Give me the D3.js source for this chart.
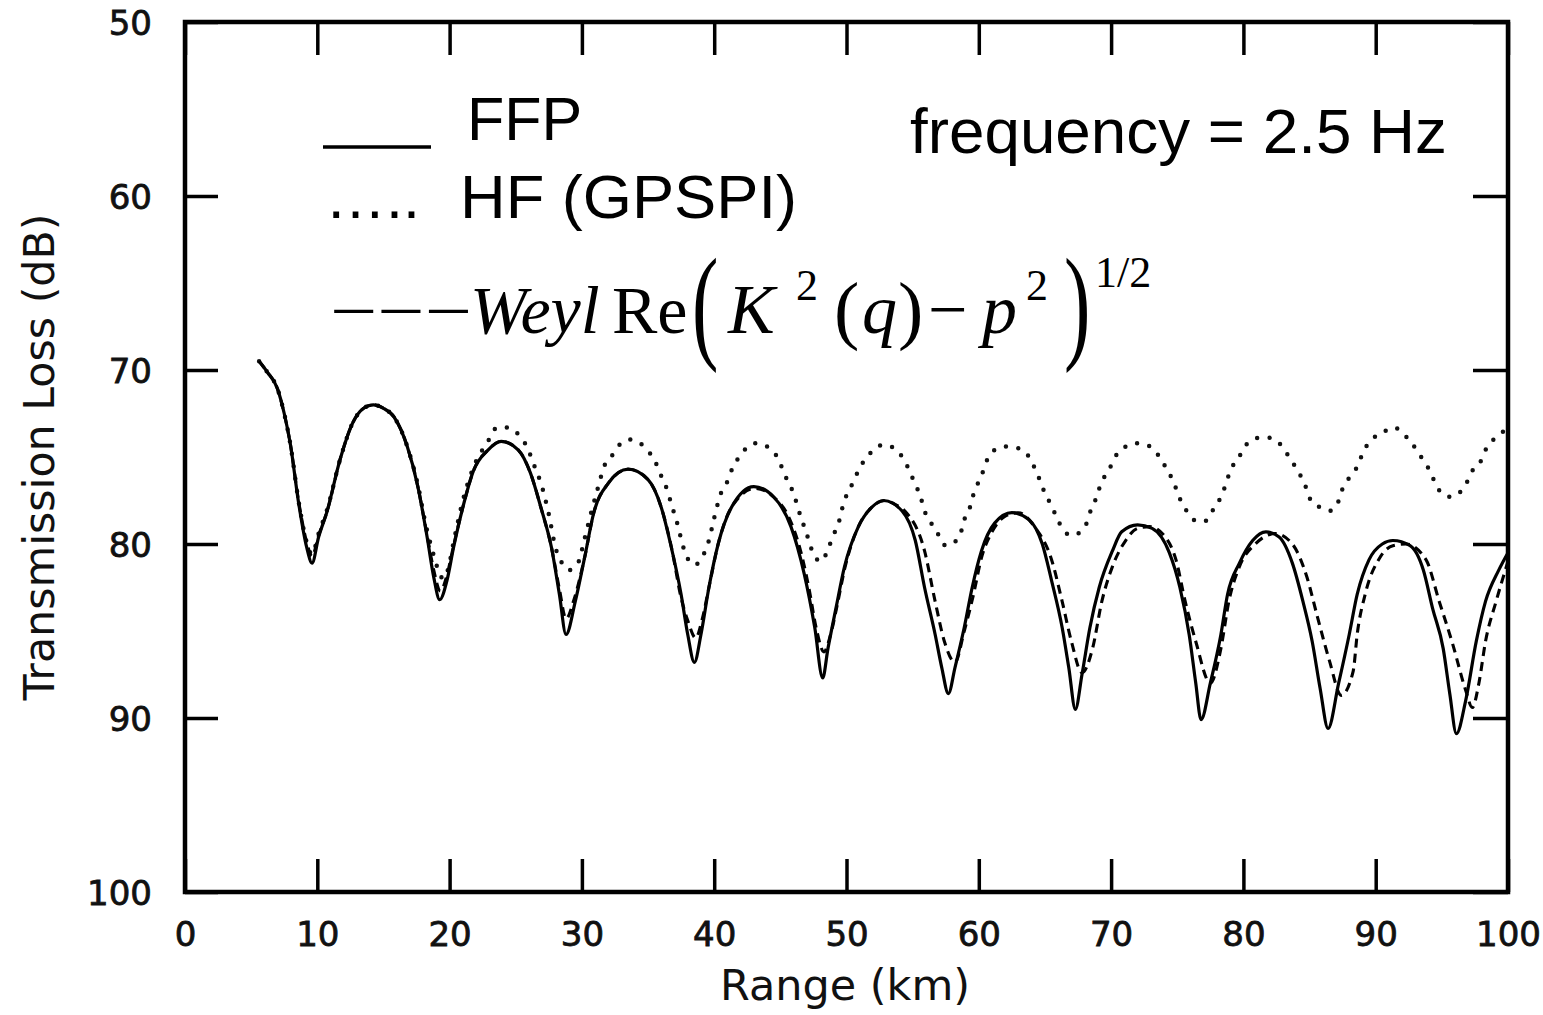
<!DOCTYPE html>
<html>
<head>
<meta charset="UTF-8">
<script src="https://cdn.jsdelivr.net/npm/d3@7"></script>
<style>
  body { margin: 0; background: #fff; }
  svg { display: block; }
</style>
</head>
<body>
<svg id="chart" width="1543" height="1015"></svg>
<script>
// tick values
var xTicks = [0, 10, 20, 30, 40, 50, 60, 70, 80, 90, 100];
var yTicks = [50, 60, 70, 80, 90, 100];

// FFP (solid), [range km, TL dB]
var ffp = [[5.6,69.5],[6.2,70.1],[7.0,71.1],[7.5,72.5],[7.95,74.2],[8.6,77.7],[9.2,80.2],[9.6,81.1],[10.1,79.6],[10.75,78.1],[11.7,75.2],[12.7,73.0],[13.5,72.2],[14.24,72.0],[15.0,72.2],[15.8,72.7],[16.8,74.4],[17.6,76.7],[18.3,79.6],[18.8,81.9],[19.25,83.2],
  [19.8,82.1],[20.3,80.2],[21.0,77.9],[21.8,75.8],[22.9,74.6],[23.9,74.1],[25.2,74.6],[26.1,75.9],[26.9,77.9],[27.7,80.2],[28.3,82.9],[28.8,85.2],
  [29.5,83.3],[30.2,80.8],[30.9,78.2],[32.0,76.5],[33.5,75.7],[35.0,76.3],[36.0,77.9],[36.7,80.0],[37.5,82.9],[38.0,85.2],[38.5,86.8],
  [39.0,85.2],[39.6,82.5],[40.3,80.0],[41.3,77.9],[43.0,76.7],[44.5,77.3],[45.8,79.0],[46.8,81.7],[47.6,84.8],[48.2,87.7],
  [48.6,86.0],[49.2,83.7],[49.85,81.3],[50.9,79.0],[51.9,77.9],[52.8,77.5],[54.2,78.1],[55.2,79.8],[55.9,82.5],[56.7,85.2],[57.2,87.1],[57.7,88.6],
  [58.2,87.1],[58.9,84.8],[59.5,82.5],[60.2,80.4],[61.2,78.8],[62.5,78.2],[63.8,78.6],[64.8,80.0],[65.5,82.1],[66.3,84.8],[66.8,87.1],[67.3,89.5],
  [67.8,87.5],[68.4,84.8],[69.1,82.5],[70.1,80.4],[70.8,79.3],[72.0,78.9],[73.1,79.1],[74.4,80.5],[75.2,82.5],[75.9,85.2],[76.4,88.0],[76.8,90.1],
  [77.5,88.0],[78.3,85.2],[78.8,82.9],[79.7,81.1],[80.7,79.8],[81.7,79.3],[82.7,79.6],[83.7,81.1],[84.5,83.3],[85.2,85.6],[85.8,88.3],[86.4,90.6],
  [87.2,88.0],[88.0,85.2],[88.6,82.9],[89.5,80.9],[90.5,80.0],[91.3,79.8],[92.6,80.1],[93.6,81.5],[94.3,83.7],[95.1,86.0],[95.6,88.6],[96.1,90.9],
  [96.8,89.0],[97.6,85.6],[98.3,83.3],[99.3,81.5],[100,80.5]];

// HF (GPSPI), dotted
var hf = [[5.6,69.5],[6.2,70.1],[7.0,71.1],[7.5,72.5],[7.95,74.2],[8.6,77.6],[9.2,79.9],[9.6,80.6],[10.1,79.4],[10.75,78.0],[11.7,75.2],[12.7,73.0],[13.5,72.2],[14.24,72.0],[15.0,72.2],[15.8,72.7],[16.8,74.4],[17.6,76.6],[18.2,78.9],[18.6,80.1],[19.2,81.6],[19.5,82.0],[19.9,81.4],[20.3,79.9],[21.0,77.5],[21.8,75.6],[22.9,74.1],[23.6,73.3],[24.4,73.3],[25.2,73.7],[25.9,74.5],[26.4,75.5],[26.9,76.5],[27.5,78.3],[28.0,80.2],[28.5,81.1],[29.0,81.5],[29.7,81.1],[30.2,79.7],[30.7,78.2],[31.2,76.8],[31.7,75.5],[32.4,74.8],[33.1,74.1],[33.7,74.0],[34.2,74.1],[34.8,74.5],[35.5,75.2],[36.0,76.1],[36.4,76.8],[36.8,77.8],[37.2,78.8],[37.5,79.7],[37.8,80.5],[38.5,81.2],[39.2,80.6],[39.6,79.8],[40.0,78.5],[40.5,77.1],[41.0,76.4],[41.4,75.6],[42.0,74.9],[42.7,74.3],[43.2,74.2],[43.7,74.3],[44.6,74.8],[45.0,75.4],[45.5,76.3],[46.0,77.1],[46.4,78.1],[46.8,79.0],[47.2,79.9],[47.5,80.6],[48.1,81.0],[48.6,80.3],[49.0,79.5],[49.4,78.8],[49.8,77.6],[50.2,76.9],[50.6,76.3],[51.0,75.6],[51.6,75.0],[52.1,74.5],[52.9,74.3],[53.6,74.5],[54.3,75.1],[54.7,75.7],[55.1,76.4],[55.6,77.3],[55.9,78.1],[56.4,78.8],[56.9,79.4],[57.3,80.0],[57.6,80.1],[57.9,80.0],[58.6,79.5],[58.8,78.8],[59.2,78.2],[59.7,76.9],[60.2,76.1],[60.5,75.4],[61.2,74.6],[62.1,74.4],[63.0,74.5],[63.8,75.0],[64.2,75.6],[64.6,76.3],[65.0,77.1],[65.5,77.8],[65.9,78.5],[66.4,79.2],[67.0,79.5],[67.7,79.3],[68.2,78.7],[68.4,78.2],[68.8,77.5],[69.3,76.4],[69.8,75.8],[70.3,75.0],[71.1,74.4],[71.8,74.2],[72.6,74.3],[73.3,74.6],[73.8,75.2],[74.3,75.8],[74.8,76.6],[75.2,77.4],[75.8,78.2],[76.5,78.7],[77.0,78.7],[77.3,78.6],[77.8,77.9],[78.3,77.3],[78.7,76.5],[79.0,75.8],[79.6,75.1],[80.2,74.3],[81.1,73.9],[82.0,73.9],[82.7,74.2],[83.2,74.7],[83.7,75.3],[84.2,75.9],[84.7,76.7],[85.1,77.5],[85.8,77.9],[86.5,78.1],[87.1,77.7],[87.4,77.0],[87.9,76.3],[88.5,75.7],[89.2,74.5],[89.7,74.0],[90.5,73.6],[91.4,73.3],[92.0,73.6],[92.6,74.1],[93.1,74.6],[93.6,75.2],[94.1,75.8],[94.5,76.5],[94.9,77.0],[95.7,77.3],[96.4,77.0],[97.0,76.3],[97.3,75.8],[97.9,75.3],[98.3,74.6],[98.9,74.0],[99.5,73.6],[100,73.4]];

// Weyl, dashed
var weyl = [[5.6,69.5],[6.2,70.1],[7.0,71.1],[7.5,72.5],[7.95,74.2],[8.6,77.6],[9.2,79.9],[9.6,80.7],[10.1,79.5],[10.75,78.1],[11.7,75.2],[12.7,73.0],[13.5,72.2],[14.24,72.0],[15.0,72.2],[15.8,72.7],[16.8,74.4],[17.6,76.7],[18.3,79.5],[18.8,81.5],[19.3,82.7],[19.8,81.8],[20.3,80.1],[21.0,77.9],[21.8,75.8],[22.9,74.6],[23.9,74.1],[25.2,74.6],[26.1,75.9],[26.9,77.9],[27.7,80.2],[28.3,82.6],[28.8,84.3],[29.4,83.2],[30.2,80.8],[30.9,78.2],[32.0,76.5],[33.5,75.7],[35.0,76.3],[36.0,77.9],[36.8,80.3],[37.5,83.1],[38.0,84.4],[38.6,85.4],[39.1,84.3],[39.6,82.5],[40.3,80.0],[41.3,77.9],[43.1,76.8],[44.5,77.3],[45.6,78.4],[46.6,80.6],[47.2,82.7],[47.7,84.8],[48.3,86.2],[48.8,85.2],[49.3,83.5],[49.9,81.3],[50.9,79.0],[51.9,77.9],[52.9,77.5],[53.6,77.7],[54.4,78.1],[55.9,80.4],[56.7,83.3],[57.4,85.6],[58.2,86.8],[58.9,85.0],[59.6,82.9],[60.2,80.8],[61.0,79.3],[62.0,78.4],[63.0,78.2],[64.2,79.0],[65.5,80.9],[66.3,83.3],[67.0,85.6],[67.8,87.4],[68.6,86.0],[69.3,83.3],[70.1,81.3],[71.1,79.8],[72.0,79.1],[72.9,79.0],[74.1,79.6],[74.9,80.9],[75.6,83.3],[76.4,85.6],[77.5,88.0],[78.3,86.0],[78.9,83.3],[79.7,81.3],[80.9,80.0],[82.4,79.4],[83.7,80.0],[84.8,81.9],[85.6,84.2],[86.5,86.7],[87.4,88.7],[88.3,87.3],[88.6,85.2],[89.2,82.9],[90.3,80.8],[91.3,80.1],[92.3,80.0],[93.8,80.9],[94.8,83.3],[95.8,85.7],[96.8,88.4],[97.3,89.4],[97.8,88.0],[98.3,85.6],[99.1,83.3],[100,81.0]];

var svg = d3.select("#chart");
var plotLeft = 185, plotRight = 1508, plotTop = 22, plotBottom = 892;

var x = d3.scaleLinear().domain([0, 100]).range([plotLeft, plotRight]);
var y = d3.scaleLinear().domain([50, 100]).range([plotTop, plotBottom]);

var tickFont = "'DejaVu Sans', sans-serif";

// axes, ticks pointing inward
var gb = svg.append("g").attr("transform", "translate(0," + plotBottom + ")")
  .call(d3.axisBottom(x).tickValues(xTicks).tickSizeInner(-33).tickSizeOuter(0).tickPadding(30));
var gt = svg.append("g").attr("transform", "translate(0," + plotTop + ")")
  .call(d3.axisTop(x).tickValues(xTicks).tickSizeInner(-33).tickSizeOuter(0).tickFormat(""));
var gl = svg.append("g").attr("transform", "translate(" + plotLeft + ",0)")
  .call(d3.axisLeft(y).tickValues(yTicks).tickSizeInner(-33).tickSizeOuter(0).tickPadding(33));
var gr = svg.append("g").attr("transform", "translate(" + plotRight + ",0)")
  .call(d3.axisRight(y).tickValues(yTicks).tickSizeInner(-35).tickSizeOuter(0).tickFormat(""));

[gb, gt, gl, gr].forEach(function(g){
  g.select(".domain").remove();
  g.selectAll(".tick line").attr("stroke", "#000").attr("stroke-width", 3.5);
  g.selectAll(".tick text").attr("fill", "#111")
    .attr("stroke", "#111").attr("stroke-width", 0.8)
    .style("font-family", tickFont).style("font-size", "34px");
});
gb.selectAll(".tick text").attr("dy", "0.72em");
gl.selectAll(".tick text").attr("dy", "0.36em");

// frame
svg.append("rect")
  .attr("x", plotLeft).attr("y", plotTop)
  .attr("width", plotRight - plotLeft).attr("height", plotBottom - plotTop)
  .attr("fill", "none").attr("stroke", "#000").attr("stroke-width", 4.5);

// axis titles
svg.append("text")
  .attr("transform", "translate(54,457) rotate(-90)")
  .attr("text-anchor", "middle")
  .attr("textLength", 487).attr("lengthAdjust", "spacingAndGlyphs")
  .style("font-family", tickFont).style("font-size", "43px").attr("fill", "#111")
  .text("Transmission Loss (dB)");
svg.append("text")
  .attr("x", 845).attr("y", 1000)
  .attr("text-anchor", "middle")
  .attr("textLength", 250).attr("lengthAdjust", "spacingAndGlyphs")
  .style("font-family", tickFont).style("font-size", "43px").attr("fill", "#111")
  .text("Range (km)");

// curves
var line = d3.line()
  .x(function(d){ return x(d[0]); })
  .y(function(d){ return y(d[1]); })
  .curve(d3.curveMonotoneX);

svg.append("path").datum(hf)
  .attr("d", line).attr("fill", "none")
  .attr("stroke", "#111").attr("stroke-width", 4.5)
  .attr("stroke-linecap", "round").attr("stroke-dasharray", "0 12.5");

svg.append("path").datum(weyl)
  .attr("d", line).attr("fill", "none")
  .attr("stroke", "#000").attr("stroke-width", 3.1)
  .attr("stroke-dasharray", "9 6");

svg.append("path").datum(ffp)
  .attr("d", line).attr("fill", "none")
  .attr("stroke", "#000").attr("stroke-width", 3.2)
  .attr("stroke-linejoin", "round");

// legend
var sans = "'Liberation Sans', Arial, sans-serif";
var serif = "'Liberation Serif', 'Times New Roman', serif";

svg.append("line").attr("x1", 323).attr("x2", 431).attr("y1", 147).attr("y2", 147)
  .attr("stroke", "#000").attr("stroke-width", 3.5);
svg.append("text").attr("x", 467).attr("y", 140)
  .style("font-family", sans).style("font-size", "61px").text("FFP");

svg.append("text").attr("x", 325).attr("y", 218)
  .style("font-family", sans).style("font-size", "61px").text("\u2026..");
svg.append("text").attr("x", 460).attr("y", 218)
  .attr("textLength", 337).attr("lengthAdjust", "spacingAndGlyphs")
  .style("font-family", sans).style("font-size", "62px").text("HF (GPSPI)");

svg.append("text").attr("x", 910).attr("y", 153)
  .attr("textLength", 537).attr("lengthAdjust", "spacingAndGlyphs")
  .style("font-family", sans).style("font-size", "63px").text("frequency = 2.5 Hz");

// Weyl formula
var fg = svg.append("g").style("font-family", serif).attr("fill", "#000");
function ft(tx, ty, s, size, italic){
  return fg.append("text").attr("x", tx).attr("y", ty)
    .style("font-size", size + "px").style("font-style", italic ? "italic" : "normal").text(s);
}
ft(330, 333, "\u2212\u2212\u2212", 66, false).attr("textLength", 142).attr("lengthAdjust", "spacingAndGlyphs");
ft(470, 333, "Weyl", 68, true);
ft(612, 333, "Re", 68, false);
fg.append("text").attr("transform", "translate(692,346) scale(0.62,1)")
  .style("font-size", "128px").text("(");
ft(728, 333, "K", 70, true);
ft(796, 300, "2", 44, false);
ft(834, 335, "(", 76, false);
ft(862, 333, "q", 70, true);
ft(898, 335, ")", 76, false);
ft(928, 333, "\u2212", 70, false);
ft(982, 333, "p", 70, true);
ft(1026, 300, "2", 44, false);
fg.append("text").attr("transform", "translate(1064,346) scale(0.62,1)")
  .style("font-size", "128px").text(")");
ft(1095, 287, "1/2", 44, false);
</script>
</body>
</html>
